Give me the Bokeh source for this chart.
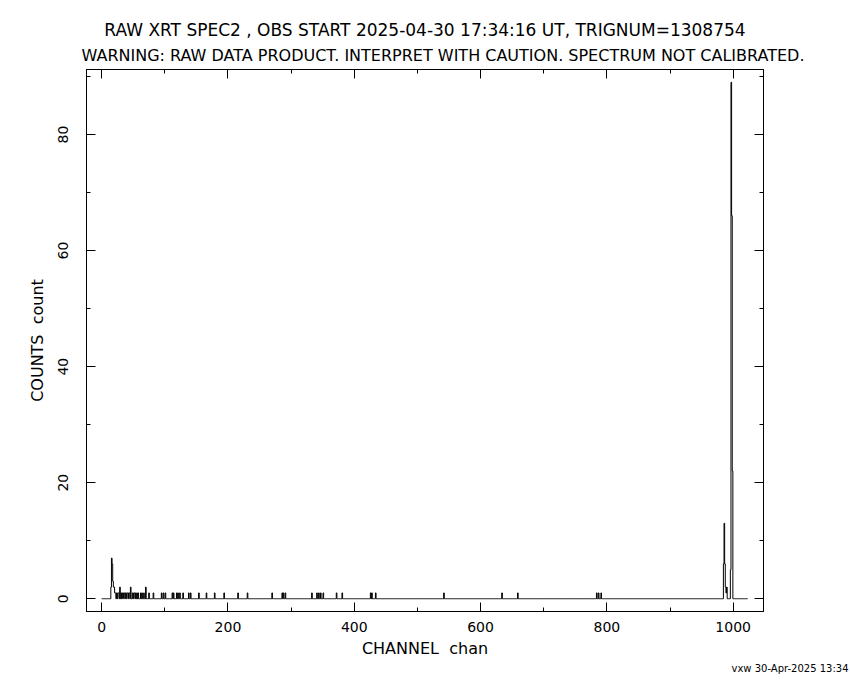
from bokeh.plotting import figure
from bokeh.models import Range1d, FixedTicker, LinearAxis, Title
from bokeh.embed import file_html
from bokeh.resources import INLINE

# Non-zero channels and their raw counts (all other channels 0..1023 are 0)
channels = [15, 16, 17, 18, 19, 20, 21, 22, 24, 26, 27, 29, 31, 33, 35, 36, 38, 40, 41,
            43, 44, 46, 49, 51, 52, 54, 56, 58, 62, 64, 67, 70, 75, 82, 95, 98, 101,
            112, 114, 119, 121, 124, 129, 138, 141, 154, 166, 179, 194, 216, 231, 270,
            286, 288, 291, 333, 341, 344, 347, 351, 372, 381, 426, 428, 434, 542, 634,
            659, 784, 787, 791, 985, 986, 987, 988, 989, 990, 996, 997, 998, 999]
counts = [2, 7, 6, 3, 2, 2, 1, 1, 1, 1, 1, 2, 1, 1, 1, 1, 1, 1, 1,
          1, 1, 2, 1, 1, 1, 1, 1, 1, 1, 1, 1, 2, 1, 1, 1, 1, 1,
          1, 1, 1, 1, 1, 1, 1, 1, 1, 1, 1, 1, 1, 1, 1,
          1, 1, 1, 1, 1, 1, 1, 1, 1, 1, 1, 1, 1, 1, 1,
          1, 1, 1, 1, 6, 13, 6, 2, 1, 2, 5, 89, 66, 22]
n_channels = 1024

x_major = [0, 200, 400, 600, 800, 1000]
x_minor = [100, 300, 500, 700, 900]
y_major = [0, 20, 40, 60, 80]
y_minor = [10, 30, 50, 70, 90]

title1 = "RAW XRT SPEC2 , OBS START 2025-04-30 17:34:16 UT, TRIGNUM=1308754"
title2 = "WARNING: RAW DATA PRODUCT. INTERPRET WITH CAUTION. SPECTRUM NOT CALIBRATED."
xlabel = "CHANNEL\u00a0\u00a0chan"
ylabel = "COUNTS\u00a0\u00a0count"
stamp = "vxw 30-Apr-2025 13:34"

# full spectrum
chan_all = list(range(n_channels))
cnt_all = [0] * n_channels
for c, v in zip(channels, counts):
    cnt_all[c] = v

FONT = "DejaVu Sans"
W, H = 850, 680
FL, FR, FT, FB = 86, 763, 69, 611  # frame edges in page px

p = figure(width=W, height=H, output_backend="svg", toolbar_location=None,
           x_range=Range1d(-24, 1048), y_range=Range1d(-2.2, 91.2),
           x_axis_location=None, y_axis_location=None,
           min_border_left=FL, min_border_right=W - FR,
           min_border_top=FT, min_border_bottom=H - FB)
p.grid.visible = False
p.outline_line_color = "black"
p.outline_line_width = 1
p.background_fill_color = "white"
p.border_fill_color = "white"

p.step(chan_all, cnt_all, mode="center", line_color="black", line_width=1)

def mk_axis(ticks, minor, show_labels, label=None, orient="horizontal",
            lab_standoff=10, ax_standoff=4):
    ax = LinearAxis(ticker=FixedTicker(ticks=ticks, minor_ticks=minor))
    ax.major_tick_in = 9
    ax.major_tick_out = 0
    ax.minor_tick_in = 4
    ax.minor_tick_out = 0
    ax.axis_line_color = "black"
    ax.major_tick_line_color = "black"
    ax.minor_tick_line_color = "black"
    if show_labels:
        ax.major_label_text_font = FONT
        ax.major_label_text_font_size = "14px"
        ax.major_label_text_color = "black"
        ax.major_label_orientation = orient
        ax.major_label_standoff = lab_standoff
        if label:
            ax.axis_label = label
            ax.axis_label_text_font = FONT
            ax.axis_label_text_font_size = "16px"
            ax.axis_label_text_font_style = "normal"
            ax.axis_label_text_color = "black"
            ax.axis_label_standoff = ax_standoff
    else:
        ax.major_label_overrides = {t: "" for t in ticks}
        ax.major_label_standoff = 0
    return ax

p.add_layout(mk_axis(x_major, x_minor, True, xlabel, lab_standoff=10, ax_standoff=4), "below")
p.add_layout(mk_axis(y_major, y_minor, True, ylabel, "vertical", lab_standoff=18, ax_standoff=9), "left")
p.add_layout(mk_axis(x_major, x_minor, False), "above")
p.add_layout(mk_axis(y_major, y_minor, False), "right")

t2 = Title(text=title2, align="left", text_font=FONT, text_font_size="16px",
           text_font_style="normal", text_color="black", standoff=9, offset=-5)
t1 = Title(text=title1, align="center", text_font=FONT, text_font_size="17px",
           text_font_style="normal", text_color="black", standoff=0,
           text_line_height=0.85)
p.add_layout(t2, "above")
p.add_layout(t1, "above")

ts = Title(text=stamp, align="right", text_font=FONT, text_font_size="10px",
           text_font_style="normal", text_color="black", offset=-85, standoff=0)
p.add_layout(ts, "below")

open("out.html", "w").write(file_html(p, INLINE))
